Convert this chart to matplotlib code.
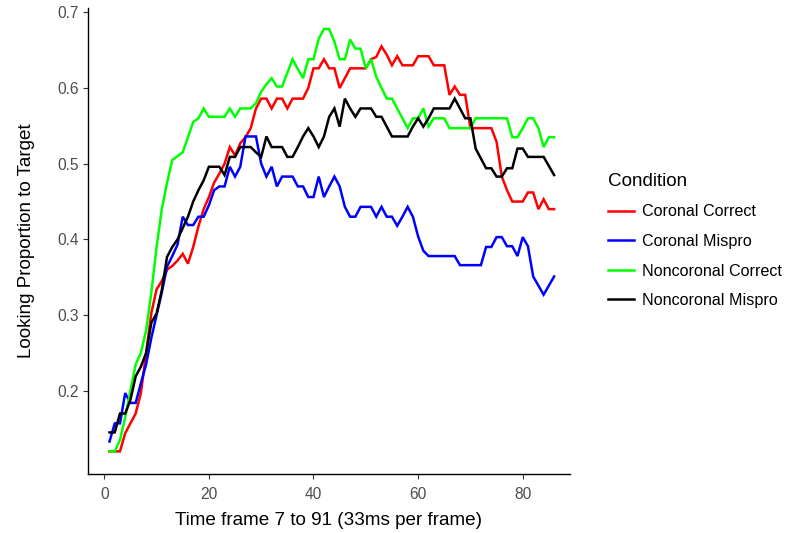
import numpy as np
import matplotlib
matplotlib.use("Agg")
import matplotlib.pyplot as plt

plt.rcParams['font.family'] = ['Liberation Sans', 'DejaVu Sans']

# frame index 1..86
frames = np.arange(1, 87)

coronal_correct = [
    0.120, 0.120, 0.120, 0.144, 0.157, 0.170, 0.197, 0.250, 0.303, 0.334,
    0.345, 0.360, 0.365, 0.372, 0.381, 0.368, 0.390, 0.417, 0.440, 0.456,
    0.475, 0.487, 0.500, 0.522, 0.511, 0.527, 0.535, 0.547, 0.573, 0.586,
    0.586, 0.573, 0.586, 0.586, 0.573, 0.586, 0.586, 0.586, 0.600, 0.626,
    0.626, 0.638, 0.626, 0.626, 0.600, 0.613, 0.626, 0.626, 0.626, 0.626,
    0.638, 0.641, 0.655, 0.644, 0.630, 0.642, 0.630, 0.630, 0.630, 0.642,
    0.642, 0.642, 0.630, 0.630, 0.630, 0.591, 0.602, 0.591, 0.591, 0.547,
    0.547, 0.547, 0.547, 0.547, 0.529, 0.483, 0.465, 0.450, 0.450, 0.450,
    0.462, 0.462, 0.440, 0.453, 0.440, 0.440]

coronal_mispro = [
    0.133, 0.157, 0.157, 0.197, 0.184, 0.184, 0.210, 0.235, 0.270, 0.300,
    0.330, 0.364, 0.378, 0.393, 0.430, 0.419, 0.419, 0.430, 0.430, 0.445,
    0.465, 0.470, 0.470, 0.496, 0.483, 0.496, 0.536, 0.536, 0.536, 0.500,
    0.483, 0.496, 0.470, 0.483, 0.483, 0.483, 0.470, 0.470, 0.456, 0.456,
    0.483, 0.456, 0.470, 0.483, 0.470, 0.443, 0.430, 0.430, 0.443, 0.443,
    0.443, 0.430, 0.443, 0.430, 0.430, 0.418, 0.430, 0.443, 0.430, 0.404,
    0.385, 0.378, 0.378, 0.378, 0.378, 0.378, 0.378, 0.366, 0.366, 0.366,
    0.366, 0.366, 0.390, 0.390, 0.403, 0.403, 0.391, 0.391, 0.378, 0.403,
    0.391, 0.351, 0.339, 0.327, 0.339, 0.351]

noncoronal_correct = [
    0.120, 0.120, 0.135, 0.165, 0.200, 0.235, 0.250, 0.280, 0.330, 0.390,
    0.440, 0.475, 0.505, 0.510, 0.515, 0.535, 0.555, 0.560, 0.573, 0.562,
    0.562, 0.562, 0.562, 0.573, 0.562, 0.573, 0.573, 0.573, 0.580, 0.595,
    0.605, 0.613, 0.602, 0.602, 0.620, 0.638, 0.625, 0.613, 0.638, 0.638,
    0.665, 0.678, 0.678, 0.661, 0.638, 0.638, 0.664, 0.652, 0.652, 0.626,
    0.638, 0.615, 0.600, 0.586, 0.586, 0.573, 0.560, 0.547, 0.560, 0.560,
    0.573, 0.549, 0.560, 0.560, 0.560, 0.547, 0.547, 0.547, 0.547, 0.547,
    0.560, 0.560, 0.560, 0.560, 0.560, 0.560, 0.560, 0.535, 0.535, 0.547,
    0.560, 0.560, 0.547, 0.522, 0.535, 0.535]

noncoronal_mispro = [
    0.145, 0.145, 0.170, 0.170, 0.188, 0.219, 0.232, 0.250, 0.290, 0.302,
    0.333, 0.377, 0.390, 0.400, 0.415, 0.430, 0.450, 0.465, 0.478, 0.496,
    0.496, 0.496, 0.485, 0.509, 0.509, 0.522, 0.522, 0.522, 0.515, 0.509,
    0.536, 0.522, 0.522, 0.522, 0.509, 0.509, 0.522, 0.536, 0.547, 0.536,
    0.522, 0.536, 0.562, 0.573, 0.549, 0.586, 0.573, 0.562, 0.573, 0.573,
    0.573, 0.562, 0.562, 0.549, 0.536, 0.536, 0.536, 0.536, 0.549, 0.560,
    0.549, 0.560, 0.573, 0.573, 0.573, 0.573, 0.586, 0.573, 0.560, 0.560,
    0.520, 0.507, 0.494, 0.494, 0.483, 0.483, 0.494, 0.494, 0.520, 0.520,
    0.509, 0.509, 0.509, 0.509, 0.497, 0.485]

conditions = ["Coronal Correct", "Coronal Mispro", "Noncoronal Correct", "Noncoronal Mispro"]
colors = ["#FF0000", "#0000FF", "#00FF00", "#000000"]
series = [coronal_correct, coronal_mispro, noncoronal_correct, noncoronal_mispro]

fig = plt.figure(figsize=(7.87, 5.33), dpi=100)
ax = fig.add_axes([87.7 / 787, 1 - 474 / 533, (570 - 87.7) / 787, (474 - 8) / 533])

for name, col, vals in zip(conditions, colors, series):
    ax.plot(frames, vals, color=col, lw=1.8, label=name, solid_joinstyle='miter')

ax.set_xlim(-3.17, 89.04)
ax.set_ylim(0.0901, 0.7057)
ax.set_xticks([0, 20, 40, 60, 80])
ax.set_yticks([0.2, 0.3, 0.4, 0.5, 0.6, 0.7])
ax.set_yticklabels(["0.2", "0.3", "0.4", "0.5", "0.6", "0.7"])

for s in ["top", "right"]:
    ax.spines[s].set_visible(False)
for s in ["left", "bottom"]:
    ax.spines[s].set_color("black")
    ax.spines[s].set_linewidth(1.0)
ax.tick_params(axis="both", colors="#333333", labelcolor="#4D4D4D",
               labelsize=11.2, length=3.5, width=0.8, pad=3)
ax.tick_params(axis="x", pad=6)

ax.set_xlabel("Time frame 7 to 91 (33ms per frame)", fontsize=13.6, labelpad=7)
ax.set_ylabel("Looking Proportion to Target", fontsize=13.6, labelpad=16)

leg = ax.legend(loc="upper left", bbox_to_anchor=(608 / 787, 1 - 173 / 533),
                bbox_transform=fig.transFigure, frameon=False, title="Condition",
                fontsize=11.6, title_fontsize=13.6, handlelength=1.6,
                handletextpad=0.5, labelspacing=0.9, borderpad=0, borderaxespad=0,
                alignment="left")

fig.savefig("out.png", dpi=100)
